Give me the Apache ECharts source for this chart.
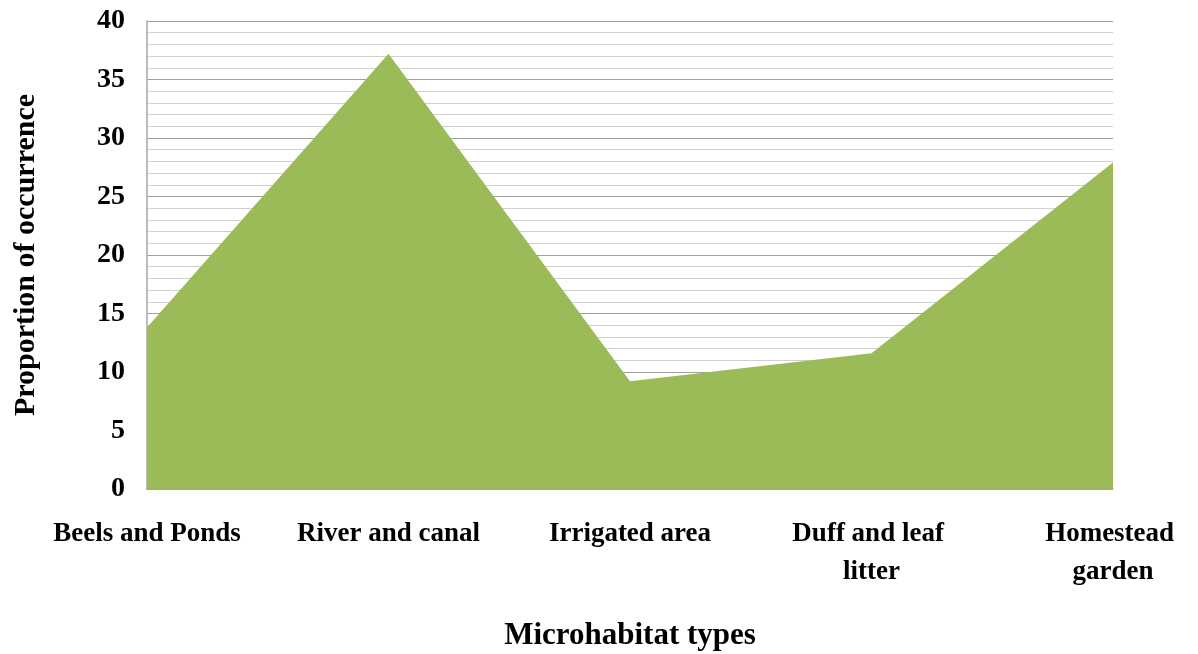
<!DOCTYPE html>
<html>
<head>
<meta charset="utf-8">
<script src="https://cdn.jsdelivr.net/npm/echarts@6/dist/echarts.min.js"></script>
<style>
  html, body { margin: 0; padding: 0; background: #fff; }
  #root { width: 1198px; height: 654px; }
</style>
</head>
<body>
<div id="root"></div>
<script>
const categories = ['Beels and Ponds', 'River and canal', 'Irrigated area', 'Duff and leaf litter', 'Homestead garden'];
const occurrence = [13.8, 37.2, 9.2, 11.6, 27.9];
const yTicks = { min: 0, max: 40, interval: 5 };

const chartDom = document.getElementById('root');
const myChart = echarts.init(chartDom);

const font = 'Liberation Serif, Times New Roman, serif';

const option = {
  animation: false,
  grid: {
    left: 147,
    right: 85,
    top: 21,
    bottom: 165,
    containLabel: false,
    outerBoundsMode: 'none'
  },
  xAxis: {
    type: 'category',
    data: categories,
    boundaryGap: false,
    name: 'Microhabitat types',
    nameLocation: 'middle',
    nameGap: 131,
    nameTextStyle: { fontFamily: font, fontWeight: 'bold', fontSize: 31, color: '#000' },
    axisLine: { lineStyle: { color: '#a6a6a6', width: 1.5 } },
    axisTick: { show: false },
    axisLabel: {
      interval: 0,
      margin: 26,
      fontFamily: font,
      fontWeight: 'bold',
      fontSize: 27,
      lineHeight: 38,
      color: '#000',
      width: 205,
      overflow: 'break',
      align: 'center'
    }
  },
  yAxis: {
    type: 'value',
    min: yTicks.min,
    max: yTicks.max,
    interval: yTicks.interval,
    name: 'Proportion of occurrence',
    nameLocation: 'middle',
    nameGap: 106,
    nameRotate: 90,
    nameTextStyle: { fontFamily: font, fontWeight: 'bold', fontSize: 30, color: '#000' },
    axisLine: { show: true, lineStyle: { color: '#a6a6a6', width: 1.5 } },
    axisTick: { show: false },
    axisLabel: {
      margin: 22,
      fontFamily: font,
      fontWeight: 'bold',
      fontSize: 28,
      color: '#000',
      padding: [4, 0, 0, 0]
    },
    splitLine: { lineStyle: { color: '#a0a0a0', width: 1.2 } },
    minorTick: { show: false, splitNumber: 5 },
    minorSplitLine: { show: true, lineStyle: { color: '#d0d0d0', width: 1.2 } }
  },
  series: [
    {
      type: 'line',
      data: occurrence,
      symbol: 'none',
      lineStyle: { width: 0 },
      areaStyle: { color: '#9bbb59', opacity: 1 },
      itemStyle: { color: '#9bbb59' }
    }
  ]
};

myChart.setOption(option);
</script>
</body>
</html>
